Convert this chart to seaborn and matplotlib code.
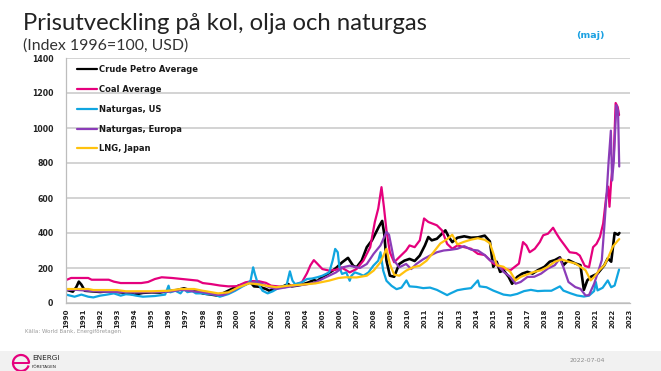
import numpy as np
import pandas as pd
import matplotlib
matplotlib.use("Agg")
import matplotlib.pyplot as plt
from matplotlib.patches import Rectangle, Arc
from matplotlib.lines import Line2D
import seaborn as sns

# ---------------- data ----------------
crude_t = [1990.0, 1990.4, 1990.6, 1990.75, 1990.9, 1991.1, 1991.5, 1992.0, 1992.5, 1993.0, 1993.5, 1994.0,
           1994.5, 1995.0, 1995.5, 1996.0, 1996.5, 1996.9, 1997.3, 1997.7, 1998.0, 1998.5, 1998.9, 1999.3,
           1999.7, 2000.1, 2000.5, 2000.8, 2001.0, 2001.3, 2001.7, 2001.9, 2002.2, 2002.5, 2002.7, 2003.0,
           2003.2, 2003.5, 2003.8, 2004.2, 2004.5, 2004.7, 2005.0, 2005.3, 2005.6, 2005.85, 2006.15, 2006.5,
           2006.8, 2007.0, 2007.3, 2007.6, 2007.9, 2008.1, 2008.3, 2008.5, 2008.62, 2008.75, 2008.95, 2009.2,
           2009.5, 2009.8, 2010.1, 2010.4, 2010.7, 2011.0, 2011.2, 2011.4, 2011.7, 2012.0, 2012.2, 2012.4,
           2012.6, 2012.9, 2013.3, 2013.7, 2014.1, 2014.5, 2014.8, 2015.0, 2015.2, 2015.4, 2015.6, 2015.9,
           2016.1, 2016.4, 2016.7, 2017.0, 2017.3, 2017.6, 2018.0, 2018.3, 2018.6, 2018.9, 2019.1, 2019.4,
           2019.8, 2020.1, 2020.3, 2020.5, 2020.7, 2021.1, 2021.5, 2021.7, 2021.9, 2022.1, 2022.3, 2022.38]
crude_v = [76, 65, 90, 122, 105, 70, 67, 63, 67, 63, 58, 48,
           58, 61, 60, 68, 74, 84, 72, 66, 55, 48, 42, 61,
           80, 99, 108, 118, 95, 93, 80, 70, 80, 90, 95, 108,
           95, 99, 105, 118, 131, 125, 150, 166, 185, 204, 232, 258,
           213, 204, 242, 319, 358, 396, 435, 469, 396, 242, 156, 150,
           223, 242, 252, 240, 271, 329, 377, 358, 367, 396, 415, 377,
           348, 373, 381, 373, 375, 385, 352, 207, 236, 178, 187, 149,
           110, 149, 168, 178, 168, 187, 207, 236, 245, 261, 216, 245,
           226, 216, 75, 129, 149, 168, 216, 255, 236, 400, 390, 400]

coal_t = [1990.0, 1990.3, 1991.3, 1991.5, 1992.5, 1992.8, 1993.2, 1994.4, 1994.8, 1995.2, 1995.6, 1996.2,
          1996.7, 1997.2, 1997.7, 1998.0, 1998.5, 1999.0, 1999.5, 2000.0, 2000.5, 2000.9, 2001.3, 2001.7,
          2002.0, 2002.4, 2002.8, 2003.2, 2003.4, 2003.8, 2004.1, 2004.3, 2004.5, 2004.7, 2005.0, 2005.4,
          2005.8, 2006.1, 2006.6, 2007.0, 2007.4, 2007.8, 2008.07, 2008.27, 2008.46, 2008.6, 2008.75, 2008.95,
          2009.2, 2009.5, 2009.9, 2010.1, 2010.4, 2010.7, 2010.95, 2011.2, 2011.7, 2012.0, 2012.3, 2012.6,
          2012.9, 2013.3, 2013.7, 2014.1, 2014.5, 2015.0, 2015.6, 2016.0, 2016.5, 2016.74, 2016.94, 2017.13,
          2017.43, 2017.72, 2017.92, 2018.2, 2018.5, 2018.7, 2018.89, 2019.18, 2019.47, 2019.86, 2020.06, 2020.35,
          2020.6, 2020.84, 2021.04, 2021.24, 2021.43, 2021.6, 2021.72, 2021.8, 2021.9, 2022.05, 2022.16, 2022.28,
          2022.36]
coal_v = [131, 143, 143, 133, 133, 122, 114, 114, 120, 137, 147, 143,
          138, 133, 128, 114, 108, 100, 95, 96, 118, 125, 124, 115,
          99, 95, 90, 100, 105, 118, 170, 215, 245, 225, 194, 185,
          190, 204, 175, 194, 242, 319, 463, 540, 662, 550, 415, 290,
          233, 262, 300, 329, 319, 358, 483, 463, 444, 415, 338, 310,
          329, 319, 310, 281, 274, 226, 197, 187, 225, 348, 329, 290,
          310, 348, 387, 396, 430, 396, 367, 329, 290, 285, 271, 213,
          204, 319, 338, 377, 454, 600, 665, 550, 700, 840, 1143, 1120,
          1074]

usgas_t = [1990.0, 1990.5, 1990.9, 1991.3, 1991.6, 1992.0, 1992.4, 1992.8, 1993.2, 1993.5, 1993.8, 1994.1,
           1994.5, 1995.2, 1995.8, 1996.0, 1996.1, 1996.4, 1996.7, 1996.9, 1997.1, 1997.4, 1997.6, 1998.0,
           1998.2, 1998.7, 1999.0, 1999.5, 1999.9, 2000.3, 2000.6, 2000.8, 2000.95, 2001.05, 2001.2, 2001.5,
           2001.8, 2002.1, 2002.5, 2002.9, 2003.1, 2003.25, 2003.4, 2003.8, 2004.1, 2004.4, 2004.7, 2005.0,
           2005.4, 2005.6, 2005.75, 2005.9, 2006.0, 2006.15, 2006.4, 2006.6, 2006.7, 2006.9, 2007.2, 2007.4,
           2007.7, 2007.98, 2008.27, 2008.4, 2008.56, 2008.75, 2009.05, 2009.34, 2009.63, 2009.92, 2010.1, 2010.5,
           2010.9, 2011.3, 2011.7, 2012.1, 2012.3, 2012.5, 2012.9, 2013.3, 2013.7, 2014.1, 2014.2, 2014.6,
           2015.0, 2015.6, 2016.0, 2016.4, 2016.8, 2017.2, 2017.6, 2018.0, 2018.4, 2018.9, 2019.1, 2019.5,
           2019.9, 2020.3, 2020.6, 2020.9, 2021.0, 2021.1, 2021.4, 2021.7, 2021.9, 2022.1, 2022.36]
usgas_v = [48, 36, 48, 36, 32, 42, 48, 55, 42, 50, 48, 42,
           36, 40, 48, 99, 61, 70, 55, 80, 62, 67, 55, 55,
           51, 48, 36, 51, 70, 93, 108, 128, 204, 166, 118, 70,
           55, 67, 90, 99, 181, 128, 108, 118, 137, 140, 147, 156,
           175, 242, 309, 290, 204, 166, 175, 127, 156, 175, 165, 156,
           175, 213, 242, 290, 185, 127, 98, 79, 88, 129, 95, 92,
           85, 88, 75, 55, 45, 55, 73, 80, 85, 129, 95, 90,
           71, 48, 43, 52, 68, 75, 68, 70, 70, 95, 71, 56,
           43, 37, 42, 68, 120, 72, 87, 129, 90, 100, 191]

europa_t = [1990.0, 1990.5, 1991.3, 1992.0, 1993.0, 1994.0, 1995.0, 1996.0, 1996.8, 1997.5, 1998.0, 1998.7,
            1999.2, 1999.7, 2000.3, 2000.8, 2001.2, 2001.5, 2001.9, 2002.3, 2002.9, 2003.4, 2004.0, 2004.6,
            2005.2, 2005.8, 2006.2, 2006.6, 2007.2, 2007.6, 2008.0, 2008.4, 2008.75, 2008.9, 2009.2, 2009.5,
            2009.9, 2010.2, 2010.5, 2010.9, 2011.3, 2011.7, 2012.1, 2012.5, 2012.9, 2013.3, 2013.7, 2014.1,
            2014.5, 2014.8, 2015.2, 2015.6, 2016.0, 2016.3, 2016.6, 2017.0, 2017.4, 2017.8, 2018.2, 2018.6,
            2018.9, 2019.1, 2019.4, 2019.8, 2020.1, 2020.4, 2020.6, 2020.9, 2021.1, 2021.35, 2021.5, 2021.65,
            2021.75, 2021.88, 2021.95, 2022.05, 2022.2, 2022.3, 2022.37]
europa_v = [74, 76, 70, 65, 63, 60, 62, 65, 75, 66, 62, 48,
            45, 67, 99, 118, 122, 108, 90, 80, 90, 99, 105, 118,
            147, 175, 204, 213, 200, 223, 281, 329, 406, 390, 242, 204,
            223, 194, 223, 250, 271, 290, 300, 304, 310, 325, 305, 300,
            274, 245, 226, 178, 149, 110, 120, 149, 150, 168, 197, 216,
            255, 205, 120, 91, 81, 43, 45, 110, 168, 245, 440, 650,
            810, 985, 700, 810, 1130, 1100, 780]

lng_t = [1990.0, 1991.3, 1991.6, 1993.0, 1993.5, 1995.0, 1996.0, 1996.7, 1997.5, 1998.0, 1998.2, 1998.9,
         1999.5, 2000.1, 2000.7, 2001.2, 2001.7, 2002.3, 2003.0, 2003.8, 2004.6, 2005.4, 2005.95, 2006.35,
         2007.0, 2007.6, 2008.0, 2008.4, 2008.75, 2008.95, 2009.2, 2009.5, 2009.9, 2010.3, 2010.7, 2011.1,
         2011.5, 2011.9, 2012.3, 2012.6, 2012.9, 2013.3, 2013.7, 2014.1, 2014.5, 2014.8, 2015.0, 2015.2,
         2015.6, 2016.0, 2016.3, 2016.6, 2017.0, 2017.4, 2017.8, 2018.2, 2018.6, 2019.0, 2019.4, 2019.8,
         2020.1, 2020.4, 2020.7, 2020.9, 2021.2, 2021.5, 2021.7, 2022.0, 2022.3, 2022.37]
lng_v = [80, 80, 74, 74, 67, 67, 70, 80, 80, 70, 67, 55,
         61, 90, 112, 108, 99, 90, 99, 105, 112, 128, 143, 147,
         146, 156, 185, 233, 310, 223, 162, 156, 185, 204, 213, 242,
         290, 340, 365, 390, 335, 350, 362, 370, 361, 342, 284, 216,
         207, 178, 129, 149, 164, 178, 187, 207, 236, 249, 236, 226,
         207, 187, 129, 149, 187, 216, 255, 323, 358, 365]

series_names = ["Crude Petro Average", "Coal Average", "Naturgas, US", "Naturgas, Europa", "LNG, Japan"]
series_colors = ["#000000", "#e5007d", "#10a5e0", "#8b3cb8", "#ffc20e"]
year_ticks = list(range(1990, 2024))
y_ticks = [0, 200, 400, 600, 800, 1000, 1200, 1400]

frames = []
for name, t, v in zip(series_names,
                      [crude_t, coal_t, usgas_t, europa_t, lng_t],
                      [crude_v, coal_v, usgas_v, europa_v, lng_v]):
    frames.append(pd.DataFrame({"year": t, "value": v, "series": name}))
df = pd.concat(frames, ignore_index=True)

# ---------------- figure ----------------
sns.set_style("white")
plt.rcParams["font.family"] = ["DejaVu Sans"]

W, H = 661, 371
fig = plt.figure(figsize=(W / 100, H / 100), dpi=100)
ax = fig.add_axes([66 / W, 1 - 303 / H, (630 - 66) / W, (303 - 58) / H])

sns.lineplot(data=df, x="year", y="value", hue="series", hue_order=series_names,
             palette=dict(zip(series_names, series_colors)), estimator=None, sort=False,
             linewidth=1.6, ax=ax, legend=False)
for ln, name in zip(ax.lines, series_names):
    if name == "Crude Petro Average":
        ln.set_linewidth(1.9)

ax.set_xlim(1990, 2023)
ax.set_ylim(0, 1400)
ax.set_xticks(year_ticks)
ax.set_xticklabels([str(y) for y in year_ticks], rotation=90, fontsize=5.0,
                   fontweight="bold", color="#222222")
ax.set_yticks(y_ticks)
ax.set_yticklabels([str(y) for y in y_ticks], fontsize=5.6, fontweight="bold", color="#222222")
ax.set_xlabel("")
ax.set_ylabel("")
ax.yaxis.grid(True, color="#c8c8c8", linewidth=1.1)
ax.xaxis.grid(False)
ax.set_axisbelow(True)
for s in ["top", "right"]:
    ax.spines[s].set_visible(False)
for s in ["left", "bottom"]:
    ax.spines[s].set_color("#bdbdbd")
    ax.spines[s].set_linewidth(0.9)
ax.tick_params(axis="x", length=3, width=0.8, color="#bdbdbd", pad=1.0)
ax.tick_params(axis="y", length=3, width=0.8, color="#bdbdbd", pad=6)

handles = [Line2D([], [], color=c, linewidth=1.6) for c in series_colors]
leg = ax.legend(handles, series_names, loc="upper left",
                bbox_to_anchor=(77 / W, 1 - 65 / H), bbox_transform=fig.transFigure,
                frameon=False, borderpad=0, borderaxespad=0, handlelength=2.4,
                handletextpad=0.25, labelspacing=1.3,
                prop={"size": 6, "weight": "bold"})
for txt in leg.get_texts():
    txt.set_color("#1a1a1a")

# ---------------- texts ----------------
fig.text(23 / W, 1 - 30 / H, "Prisutveckling på kol, olja och naturgas",
         fontsize=17.2, family=["Lato", "DejaVu Sans"], color="#222222", va="baseline")
fig.text(23 / W, 1 - 50 / H, "(Index 1996=100, USD)",
         fontsize=11.4, family=["Lato", "DejaVu Sans"], color="#333333", va="baseline")
fig.text(590 / W, 1 - 35 / H, "(maj)", fontsize=6.8, fontweight="bold",
         color="#1ba1e2", ha="center", va="center")
fig.text(25 / W, 1 - 331 / H, "Källa: World Bank, Energiföretagen", fontsize=4.0,
         color="#9a9a9a", ha="left", va="center")

# footer band
fig.patches.append(Rectangle((0, 0), 1, (H - 351) / H, transform=fig.transFigure,
                             facecolor="#f1f1f1", edgecolor="none", zorder=0))
fig.patches.append(Arc((21 / W, 1 - 363 / H), 16 / W, 16 / H, theta1=0, theta2=330,
                       transform=fig.transFigure, color="#e5007d", linewidth=1.6))
fig.add_artist(Line2D([13.5 / W, 28.5 / W], [1 - 363 / H, 1 - 363 / H],
                      transform=fig.transFigure, color="#e5007d", linewidth=1.4))
fig.text(32 / W, 1 - 358.5 / H, "ENERGI", fontsize=5.2, color="#222222",
         ha="left", va="center")
fig.text(32 / W, 1 - 367.5 / H, "FÖRETAGEN", fontsize=3.0, color="#222222",
         ha="left", va="center")
fig.text(587 / W, 1 - 360 / H, "2022-07-04", fontsize=4.4, color="#8a8a8a",
         ha="center", va="center")

fig.savefig("out.png", dpi=100)
